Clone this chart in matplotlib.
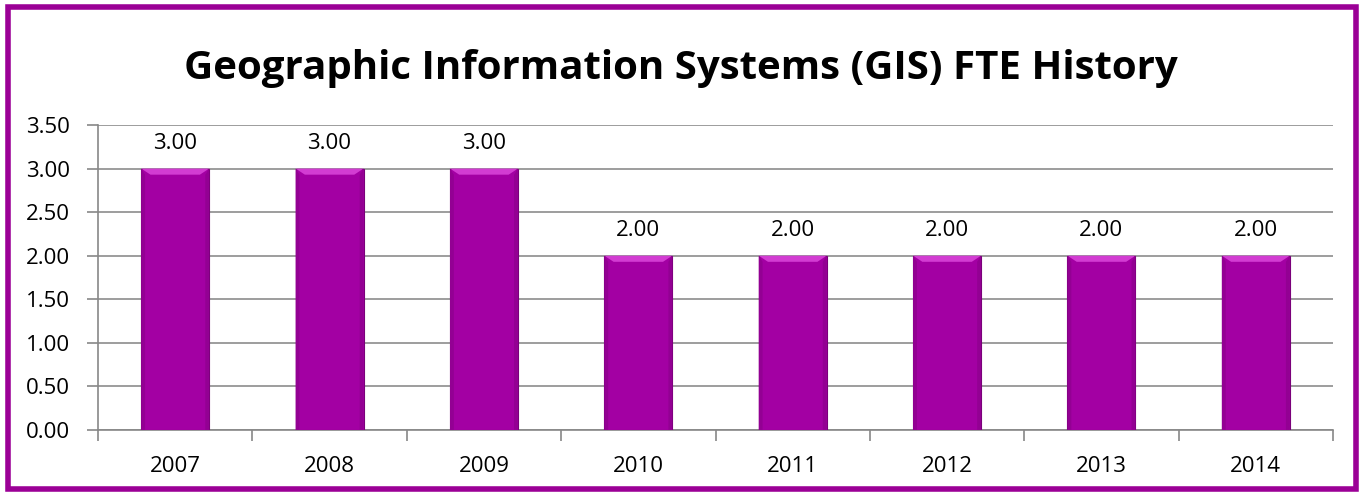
import matplotlib.pyplot as plt
from matplotlib.patches import Polygon, Rectangle
import numpy as np

years = ["2007", "2008", "2009", "2010", "2011", "2012", "2013", "2014"]
fte = [3.00, 3.00, 3.00, 2.00, 2.00, 2.00, 2.00, 2.00]
y_ticks = [0.0, 0.5, 1.0, 1.5, 2.0, 2.5, 3.0, 3.5]

W, H = 1362, 494
fig = plt.figure(figsize=(W / 100, H / 100), dpi=100)
fig.patch.set_facecolor("white")

# outer chart frame
fig.add_artist(Rectangle((8 / W, 5 / H), (W - 14) / W, (H - 12) / H,
                         transform=fig.transFigure, fill=False,
                         edgecolor="#9B0096", linewidth=4))

fig.text(0.5, 1 - 69 / H, "Geographic Information Systems (GIS) FTE History",
         ha="center", va="center", fontsize=29, fontweight="bold",
         family="Open Sans", color="black")

left, right, top, bottom = 98, 1333, 125, 430
ax = fig.add_axes([left / W, 1 - bottom / H, (right - left) / W, (bottom - top) / H])

x = np.arange(len(years))
bw = 0.44
bars = ax.bar(x, fte, width=bw, color="#A300A3", edgecolor="#7A007A",
              linewidth=0.8, zorder=3)

# bevel highlight along each bar top, soft shading on the sides
bev_x = 0.06
bev_y = 0.07
side = 0.025
for xi, v in zip(x, fte):
    x0, x1 = xi - bw / 2, xi + bw / 2
    ax.add_patch(Polygon([(x0, v), (x1, v), (x1 - bev_x, v - bev_y), (x0 + bev_x, v - bev_y)],
                         closed=True, facecolor="#D23CD2", edgecolor="none", zorder=4))
    ax.add_patch(Polygon([(x0, v), (x0 + side, v - bev_y), (x0 + side, 0), (x0, 0)],
                         closed=True, facecolor="#930093", edgecolor="none", zorder=4))
    ax.add_patch(Polygon([(x1, v), (x1 - side, v - bev_y), (x1 - side, 0), (x1, 0)],
                         closed=True, facecolor="#930093", edgecolor="none", zorder=4))
    ax.text(xi, v + 0.29, f"{v:.2f}", ha="center", va="center",
            fontsize=16, family="Open Sans", color="black")

ax.set_xlim(-0.5, len(years) - 0.5)
ax.set_ylim(0, 3.5)
ax.set_yticks(y_ticks)
ax.set_yticklabels([f"{t:.2f}" for t in y_ticks], fontsize=16, family="Open Sans")
ax.set_xticks(x)
ax.set_xticklabels(years, fontsize=16, family="Open Sans")
ax.set_xticks(np.arange(-0.5, len(years)), minor=True)
ax.tick_params(axis="x", which="major", length=0, pad=19)
ax.tick_params(axis="x", which="minor", length=8, color="#888888", width=1.2)
ax.tick_params(axis="y", length=8, color="#888888", width=1.2, pad=12)

ax.grid(axis="y", color="#8C8C8C", linewidth=1.2, zorder=0)
ax.set_axisbelow(True)
for s in ["top", "right"]:
    ax.spines[s].set_visible(False)
for s in ["left", "bottom"]:
    ax.spines[s].set_color("#888888")
    ax.spines[s].set_linewidth(1.2)

fig.savefig("out.png", dpi=100, facecolor="white")
